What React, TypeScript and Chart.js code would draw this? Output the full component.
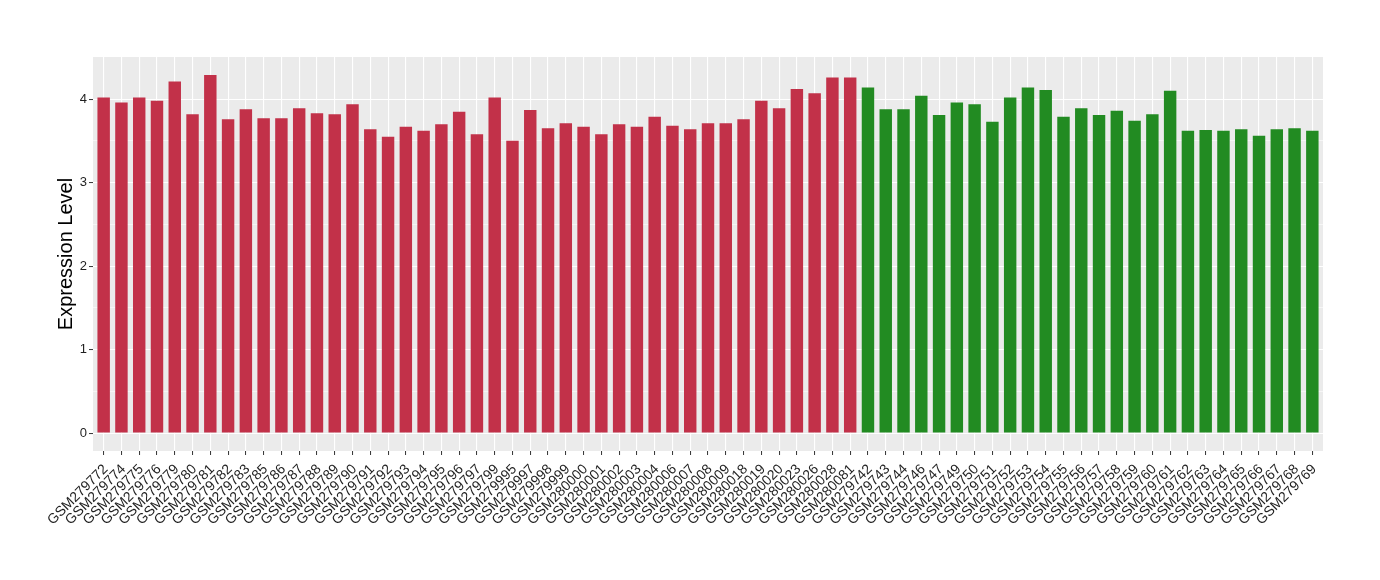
import React, { useEffect, useRef } from "react";
import { Chart, registerables } from "chart.js";

Chart.register(...registerables);

const samples: string[] = [
  "GSM279772", "GSM279774", "GSM279775", "GSM279776", "GSM279779", "GSM279780",
  "GSM279781", "GSM279782", "GSM279783", "GSM279785", "GSM279786", "GSM279787",
  "GSM279788", "GSM279789", "GSM279790", "GSM279791", "GSM279792", "GSM279793",
  "GSM279794", "GSM279795", "GSM279796", "GSM279797", "GSM279799", "GSM279995",
  "GSM279997", "GSM279998", "GSM279999", "GSM280000", "GSM280001", "GSM280002",
  "GSM280003", "GSM280004", "GSM280006", "GSM280007", "GSM280008", "GSM280009",
  "GSM280018", "GSM280019", "GSM280020", "GSM280023", "GSM280026", "GSM280028",
  "GSM280081",
  "GSM279742", "GSM279743", "GSM279744", "GSM279746", "GSM279747", "GSM279749",
  "GSM279750", "GSM279751", "GSM279752", "GSM279753", "GSM279754", "GSM279755",
  "GSM279756", "GSM279757", "GSM279758", "GSM279759", "GSM279760", "GSM279761",
  "GSM279762", "GSM279763", "GSM279764", "GSM279765", "GSM279766", "GSM279767",
  "GSM279768", "GSM279769",
];

const expression: number[] = [
  4.02, 3.96, 4.02, 3.98, 4.21, 3.82, 4.29, 3.76, 3.88, 3.77, 3.77, 3.89,
  3.83, 3.82, 3.94, 3.64, 3.55, 3.67, 3.62, 3.70, 3.85, 3.58, 4.02, 3.50,
  3.87, 3.65, 3.71, 3.67, 3.58, 3.70, 3.67, 3.79, 3.68, 3.64, 3.71, 3.71,
  3.76, 3.98, 3.89, 4.12, 4.07, 4.26, 4.26,
  4.14, 3.88, 3.88, 4.04, 3.81, 3.96, 3.94, 3.73, 4.02, 4.14, 4.11, 3.79,
  3.89, 3.81, 3.86, 3.74, 3.82, 4.10, 3.62, 3.63, 3.62, 3.64, 3.56, 3.64,
  3.65, 3.62,
];

const groups: string[] = [
  ...Array(43).fill("case"),
  ...Array(26).fill("control"),
];

const groupColors: Record<string, string> = {
  case: "#C23149",
  control: "#228B22",
};

const yMajorTicks: number[] = [0, 1, 2, 3, 4];
const yMinorTicks: number[] = [0.5, 1.5, 2.5, 3.5];

const panelBackground = {
  id: "panelBackground",
  beforeDraw(chart: any) {
    const { ctx, chartArea } = chart;
    ctx.save();
    ctx.fillStyle = "#EBEBEB";
    ctx.fillRect(chartArea.left, chartArea.top, chartArea.right - chartArea.left, chartArea.bottom - chartArea.top);
    ctx.restore();
  },
};

const FONT = "'Liberation Sans', Arial, sans-serif";

export default function App() {
  const canvasRef = useRef<HTMLCanvasElement | null>(null);

  useEffect(() => {
    if (!canvasRef.current) return;
    const dataMax = Math.max(...expression);
    const pad = dataMax * 0.05;
    const chart = new Chart(canvasRef.current, {
      type: "bar",
      data: {
        datasets: [
          {
            data: expression.map((v, i) => ({ x: i, y: v })),
            backgroundColor: groups.map((g) => groupColors[g]),
            borderWidth: 0,
            categoryPercentage: 1,
            barPercentage: 0.7,
          },
        ],
      },
      options: {
        responsive: false,
        animation: false,
        layout: { padding: { top: 57, right: 57, bottom: 0, left: 0 } },
        plugins: {
          legend: { display: false },
          tooltip: { enabled: false },
        },
        scales: {
          x: {
            type: "linear",
            min: -0.6,
            max: samples.length - 1 + 0.6,
            offset: false,
            afterBuildTicks: (scale: any) => {
              scale.ticks = samples.map((_, i) => ({ value: i }));
            },
            afterFit: (scale: any) => {
              scale.height = 129;
            },
            border: { display: false },
            grid: {
              offset: false,
              color: "#FFFFFF",
              lineWidth: 1.1,
              drawTicks: true,
              tickLength: 4,
              tickColor: "#333333",
              tickWidth: 1,
            },
            ticks: {
              autoSkip: false,
              minRotation: 45,
              maxRotation: 45,
              padding: 6,
              labelOffset: 2,
              color: "#1F1F1F",
              font: { family: FONT, size: 14 },
              callback: (v: any) => samples[v as number] ?? "",
            },
          },
          y: {
            type: "linear",
            min: -pad,
            max: dataMax + pad,
            afterBuildTicks: (scale: any) => {
              scale.ticks = [...yMajorTicks, ...yMinorTicks]
                .sort((a, b) => a - b)
                .map((v) => ({ value: v }));
            },
            afterFit: (scale: any) => {
              scale.width = 93;
            },
            border: { display: false },
            grid: {
              color: "#FFFFFF",
              lineWidth: (ctx: any) => (yMajorTicks.includes(ctx.tick?.value) ? 1.1 : 0.55),
              drawTicks: true,
              tickLength: 4,
              tickColor: (ctx: any) => (yMajorTicks.includes(ctx.tick?.value) ? "#333333" : "rgba(0,0,0,0)"),
              tickWidth: 1,
            },
            ticks: {
              padding: 2,
              color: "#1F1F1F",
              font: { family: FONT, size: 13 },
              callback: (v: any) => (yMajorTicks.includes(v) ? String(v) : ""),
            },
            title: {
              display: true,
              text: "Expression Level",
              color: "#000000",
              font: { family: FONT, size: 20 },
              padding: { top: 54, bottom: 0 },
            },
          },
        },
      },
      plugins: [panelBackground],
    });
    return () => chart.destroy();
  }, []);

  return (
    <div style={{ position: "absolute", left: 0, top: 0, width: 1380, height: 580, background: "#FFFFFF" }}>
      <canvas ref={canvasRef} width={1380} height={580} />
    </div>
  );
}
